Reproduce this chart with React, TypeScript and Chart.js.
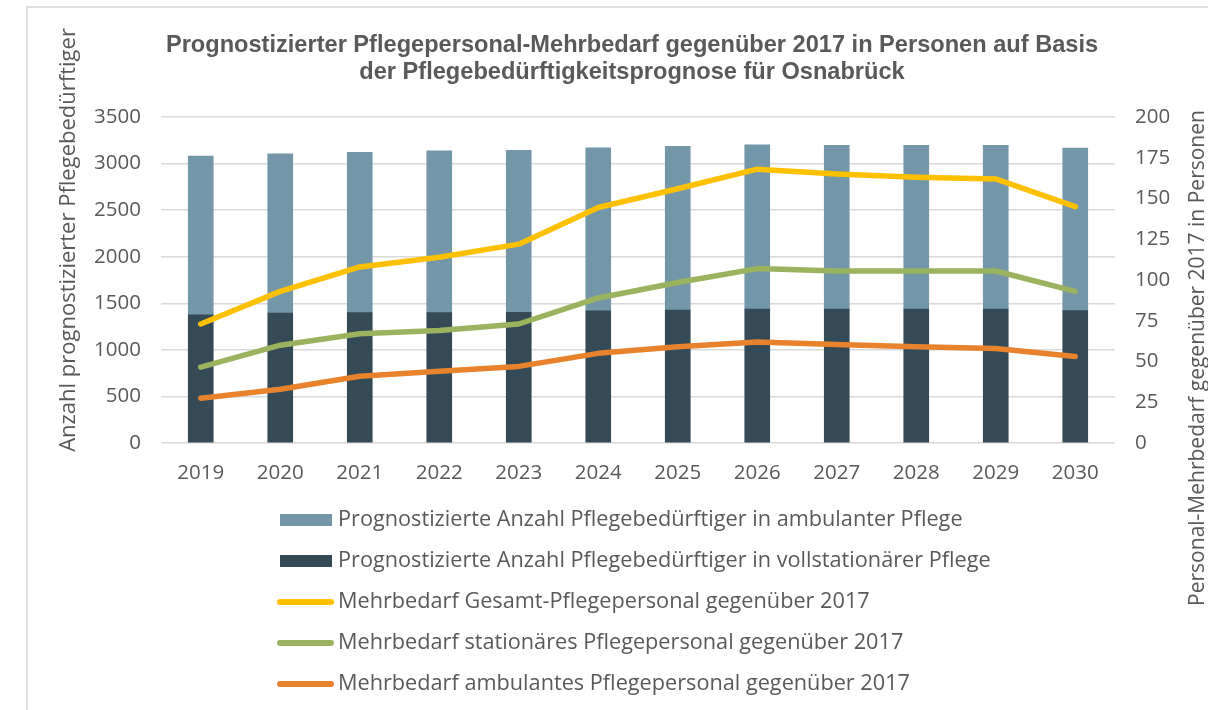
import React, { useEffect, useRef } from "react";
import { Chart, registerables } from "chart.js";

Chart.register(...registerables);

const years = ["2019", "2020", "2021", "2022", "2023", "2024", "2025", "2026", "2027", "2028", "2029", "2030"];
const stationaerBeduerftige = [1375, 1394, 1400, 1400, 1404, 1418, 1426, 1437, 1437, 1437, 1437, 1422];
const ambulantBeduerftige = [1705, 1711, 1720, 1738, 1737, 1752, 1758, 1765, 1758, 1758, 1758, 1745];
const gesamtPersonal = [73, 93, 108, 114, 122, 144.5, 156, 168, 165, 163, 162, 145];
const stationaerPersonal = [46.5, 60, 67, 69, 73, 89, 98.5, 107, 105.5, 105.5, 105.5, 93];
const ambulantPersonal = [27.5, 33, 41, 44, 47, 55, 59, 62, 60.5, 59, 58, 53];

const titleLines = [
  "Prognostizierter Pflegepersonal-Mehrbedarf gegenüber 2017 in Personen auf Basis",
  "der Pflegebedürftigkeitsprognose für Osnabrück",
];
const leftAxisTitle = "Anzahl prognostizierter Pflegebedürftiger";
const rightAxisTitle = "Personal-Mehrbedarf gegenüber 2017 in Personen";
const legendOrder = [1, 0, 2, 3, 4];

const TEXT = "#595959";
const FONT = "'Open Sans', 'Noto Sans', sans-serif";

const decorPlugin = {
  id: "decor",
  beforeDraw(chart: any) {
    const ctx = chart.ctx;
    ctx.save();
    ctx.fillStyle = "#ffffff";
    ctx.fillRect(0, 0, chart.width, chart.height);
    ctx.strokeStyle = "#dedede";
    ctx.lineWidth = 2;
    ctx.beginPath();
    ctx.moveTo(27, chart.height);
    ctx.lineTo(27, 7);
    ctx.lineTo(chart.width, 7);
    ctx.stroke();
    ctx.restore();
  },
  afterDraw(chart: any) {
    const ctx = chart.ctx;
    ctx.save();
    // title
    ctx.fillStyle = TEXT;
    ctx.textAlign = "center";
    ctx.textBaseline = "middle";
    ctx.font = "bold 23.6px 'Liberation Sans Narrow', 'Arial Narrow', sans-serif";
    ctx.fillText(titleLines[0], 632, 45);
    ctx.fillText(titleLines[1], 632, 72);

    // axis titles
    ctx.save();
    ctx.font = `22px ${FONT}`;
    ctx.translate(69, 240);
    ctx.rotate(-Math.PI / 2);
    ctx.fillText(leftAxisTitle, 0, 0);
    ctx.restore();
    ctx.save();
    ctx.font = `21px ${FONT}`;
    ctx.translate(1198, 358);
    ctx.rotate(-Math.PI / 2);
    ctx.fillText(rightAxisTitle, 0, 0);
    ctx.restore();

    // legend
    const ds = chart.data.datasets;
    const ys = [520, 561, 602, 643, 684];
    ctx.textAlign = "left";
    ctx.font = `21.7px ${FONT}`;
    legendOrder.forEach((di: number, i: number) => {
      const d = ds[di];
      const y = ys[i];
      if (d.type === "bar") {
        ctx.fillStyle = d.backgroundColor;
        ctx.fillRect(280, y - 6, 52, 12);
      } else {
        ctx.strokeStyle = d.borderColor;
        ctx.lineWidth = 6;
        ctx.lineCap = "round";
        ctx.beginPath();
        ctx.moveTo(280, y);
        ctx.lineTo(331, y);
        ctx.stroke();
      }
      ctx.fillStyle = TEXT;
      ctx.fillText(d.label, 338, y);
    });
    ctx.restore();
  },
};

export default function App() {
  const ref = useRef<HTMLCanvasElement>(null);
  useEffect(() => {
    if (!ref.current) return;
    const lineCommon = {
      type: "line" as const,
      yAxisID: "yR",
      borderWidth: 5.5,
      pointRadius: 0,
      borderCapStyle: "round" as const,
      borderJoinStyle: "round" as const,
      tension: 0,
      order: 0,
    };
    const tickFont = { family: FONT, size: 20.5 };
    const chart = new Chart(ref.current, {
      type: "bar",
      data: {
        labels: years,
        datasets: [
          {
            type: "bar",
            label: "Prognostizierte Anzahl Pflegebedürftiger in vollstationärer Pflege",
            data: stationaerBeduerftige,
            backgroundColor: "#344a56",
            yAxisID: "yL",
            stack: "s",
            order: 1,
          } as any,
          {
            type: "bar",
            label: "Prognostizierte Anzahl Pflegebedürftiger in ambulanter Pflege",
            data: ambulantBeduerftige,
            backgroundColor: "#7397a9",
            yAxisID: "yL",
            stack: "s",
            order: 1,
          } as any,
          {
            ...lineCommon,
            label: "Mehrbedarf Gesamt-Pflegepersonal gegenüber 2017",
            data: gesamtPersonal,
            borderColor: "#ffc000",
            backgroundColor: "#ffc000",
          } as any,
          {
            ...lineCommon,
            label: "Mehrbedarf stationäres Pflegepersonal gegenüber 2017",
            data: stationaerPersonal,
            borderColor: "#9bb35e",
            backgroundColor: "#9bb35e",
          } as any,
          {
            ...lineCommon,
            label: "Mehrbedarf ambulantes Pflegepersonal gegenüber 2017",
            data: ambulantPersonal,
            borderColor: "#e8822c",
            backgroundColor: "#e8822c",
          } as any,
        ],
      },
      options: {
        responsive: false,
        animation: false,
        layout: { padding: { top: 117, left: 0, right: 0, bottom: 0 } },
        plugins: {
          legend: { display: false },
          title: { display: false },
          tooltip: { enabled: false },
        },
        datasets: { bar: { barThickness: 25 } } as any,
        scales: {
          x: {
            stacked: true,
            grid: { display: false },
            border: { display: false },
            ticks: { color: TEXT, font: tickFont, padding: 10 },
            afterFit: (s: any) => {
              s.height = 267;
            },
          },
          yL: {
            type: "linear",
            position: "left",
            stacked: true,
            min: 0,
            max: 3500,
            ticks: {
              stepSize: 500,
              color: TEXT,
              font: tickFont,
              padding: 20,
              callback: (v: any) => String(v),
            },
            grid: { color: "#d9d9d9", lineWidth: 1.5, drawTicks: false },
            border: { display: false },
            afterFit: (s: any) => {
              s.width = 161;
            },
          },
          yR: {
            type: "linear",
            position: "right",
            min: 0,
            max: 200,
            ticks: {
              stepSize: 25,
              color: TEXT,
              font: tickFont,
              padding: 20,
              callback: (v: any) => String(v),
            },
            grid: { display: false, drawTicks: false },
            border: { display: false },
            afterFit: (s: any) => {
              s.width = 93;
            },
          },
        },
      },
      plugins: [decorPlugin],
    });
    return () => chart.destroy();
  }, []);
  return (
    <div style={{ position: "absolute", left: 0, top: 0, width: 1208, height: 710 }}>
      <canvas ref={ref} width={1208} height={710} style={{ width: 1208, height: 710 }} />
    </div>
  );
}
